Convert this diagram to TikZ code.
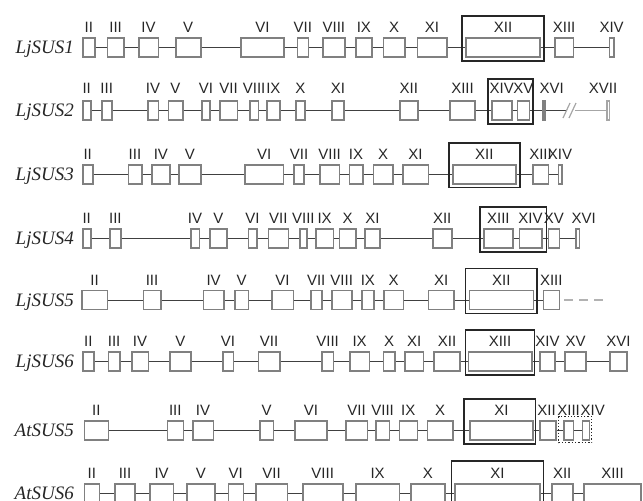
\documentclass[tikz,border=0pt]{standalone}
\usepackage{fontspec}
\setmainfont{Liberation Serif}
\newfontfamily\numfont{Liberation Sans}

\newcommand\exonrow[4]{%
  \node[gene] (#1) at (74,{#3+6}) {#2};
  \foreach \xa/\xb/\txt [count=\i, remember=\i as \j (initially 0)] in {#4} {
    \node[exon, minimum width={\xb-\xa}] (#1-\i) at ({(\xa+\xb)/2},#3) {};
    \node[exlab, #1-lab/.try, #1-l\i/.try] (#1-l\i) at ([yshift=4.5pt]#1-\i.north) {\txt};
    \ifnum\i>1 \draw[intron] (#1-\j.east) -- (#1-\i.west);\fi
  }%
}

\begin{document}
\begin{tikzpicture}[x=1pt, y=-1pt,
    exon/.style={draw=black!50, fill=white, line width=1.6pt, inner sep=0pt, minimum height=19pt},
    exlab/.style={anchor=base, inner sep=0pt, font=\numfont\fontsize{15}{15}\selectfont, text=black!85},
    gene/.style={anchor=base east, inner sep=0pt, font=\itshape\fontsize{19}{19}\selectfont, text=black!85},
    intron/.style={draw=black!75, line width=1pt},
    faint/.style={draw=black!35, line width=1.2pt},
    frame/.style={draw=black!85, line width=1.5pt},
    r2-lab/.style={yshift=2pt},
    r2-l15/.style={xshift=8pt}, a5-l13/.style={xshift=7pt}, r4-l15/.style={xshift=6pt},
    a5-l11/.style={xshift=-1.5pt}]
  \useasboundingbox (0,0) rectangle (643,501);
  \clip (0,0) rectangle (643,501);

  \exonrow{r1}{LjSUS1}{47.5}{82.7/95/II, 107.3/124/III, 138.7/158.3/IV, 175.7/200.7/V, 240.7/284/VI, 297.3/308.3/VII, 322.7/345/VIII, 356/371.7/IX, 383.3/405/X, 417.3/446.7/XI, 466/540/XII, 555/573.3/XIII, 609.3/614/XIV}
  \draw[frame] ([xshift=-3pt,yshift=21pt]r1-11.north west) rectangle ([xshift=3pt,yshift=-3pt]r1-11.south east);

  \exonrow{r2}{LjSUS2}{110.5}{82.7/90.7/II, 101.7/111.7/III, 147.7/158.3/IV, 168.3/182.7/V, 201.7/210/VI, 220/237.3/VII, 250/258.3/VIII, 266.7/280/IX, 296/305/X, 331.7/344/XI, 400/417.7/XII, 450/475/XIII, 491.7/511.7/XIV, 517.3/529.3/XV, 542.7/544.7/XVI}
  \node[exon, draw=black!35, minimum width=2.6pt] (r2-16) at (608,110.5) {};
  \node[exlab, xshift=-5pt, yshift=2pt] (r2-l16) at ([yshift=4.5pt]r2-16.north) {XVII};
  \coordinate (r2-cut) at (566,110.5);
  \coordinate (r2-go) at (575,110.5);
  \draw[intron] (r2-15.east) -- (r2-cut);
  \draw[faint] (r2-go) -- (r2-16.west);
  \draw[faint] (563,118) -- (570,103) (569,118) -- (576,103);
  \draw[frame] ([xshift=-3pt,yshift=21pt]r2-13.north west) rectangle ([xshift=3pt,yshift=-3pt]r2-14.south east);

  \exonrow{r3}{LjSUS3}{174.3}{82.7/92.7/II, 128.3/141.7/III, 151.7/170/IV, 179/200.7/V, 245/283.3/VI, 294/304/VII, 320/339.3/VIII, 349.3/362.7/IX, 373.3/392.7/X, 402.7/428.3/XI, 452.7/516/XII, 532.7/548.3/XIII, 558.3/561.7/XIV}
  \draw[frame] ([xshift=-3pt,yshift=21pt]r3-11.north west) rectangle ([xshift=3pt,yshift=-3pt]r3-11.south east);

  \exonrow{r4}{LjSUS4}{238.5}{82.7/90.7/II, 110/120.7/III, 190.7/199.3/IV, 210/226.7/V, 248.3/256.7/VI, 268.3/288.3/VII, 300/306.7/VIII, 316/333.3/IX, 339.3/356/X, 365/380/XI, 432.7/451.7/XII, 484/512.7/XIII, 519.3/541.7/XIV, 548.3/559.3/XV, 576/579.3/XVI}
  \draw[frame] ([xshift=-3pt,yshift=21pt]r4-12.north west) rectangle ([xshift=4pt,yshift=-3pt]r4-13.south east);

  \exonrow{r5}{LjSUS5}{300}{81.7/107.3/II, 143.3/160.7/III, 203.3/224/IV, 235/248.3/V, 271.7/293.3/VI, 310.7/321.7/VII, 331.7/351.7/VIII, 361.7/374/IX, 384/403.3/X, 428.3/454/XI, 469.3/533.3/XII, 543.3/559.3/XIII}
  \draw[frame] ([xshift=-3pt,yshift=21pt]r5-11.north west) rectangle ([xshift=3pt,yshift=-3pt]r5-11.south east);
  \coordinate (r5-end) at (603,300);
  \draw[faint, draw=black!30, dash pattern=on 9pt off 6pt] ([xshift=4pt]r5-12.east) -- (r5-end);

  \exonrow{r6}{LjSUS6}{361.5}{82.7/94/II, 108.3/120/III, 131.7/148.3/IV, 170/190.7/V, 222.7/233.3/VI, 258.3/280/VII, 322/333.3/VIII, 350/369.3/IX, 383.3/395/X, 405/423.3/XI, 434/460/XII, 468.3/531.7/XIII, 540/555/XIV, 565/586/XV, 610/626.7/XVI}
  \draw[frame] ([xshift=-2pt,yshift=21pt]r6-12.north west) rectangle ([xshift=2pt,yshift=-3pt]r6-12.south east);

  \exonrow{a5}{AtSUS5}{430.5}{84.3/108.3/II, 167.3/183.3/III, 192.7/213.3/IV, 260/273.3/V, 295/326.7/VI, 346/367.3/VII, 376/389.3/VIII, 399.3/417.3/IX, 427.3/452.7/X, 470/532.7/XI, 540/556/XII, 564/573.3/XIII, 582.3/589.3/XIV}
  \draw[frame] ([xshift=-5pt,yshift=21pt]a5-10.north west) rectangle ([xshift=2pt,yshift=-3pt]a5-10.south east);
  \draw[black!85, dotted, line width=1.3pt] ([xshift=-4.5pt,yshift=4pt]a5-12.north west) rectangle ([xshift=1.5pt,yshift=-2pt]a5-13.south east);

  \exonrow{a6}{AtSUS6}{493.5}{84.3/99.3/II, 115/135/III, 150/173.3/IV, 186.7/215/V, 228.3/243.3/VI, 256/287.3/VII, 302.7/342.7/VIII, 356/399.3/IX, 410.7/445/X, 455/540/XI, 551.7/572.7/XII, 584/641/XIII}
  \draw[frame] ([xshift=-2.5pt,yshift=22pt]a6-10.north west) rectangle ([xshift=2.5pt,yshift=-3pt]a6-10.south east);
\end{tikzpicture}
\end{document}
